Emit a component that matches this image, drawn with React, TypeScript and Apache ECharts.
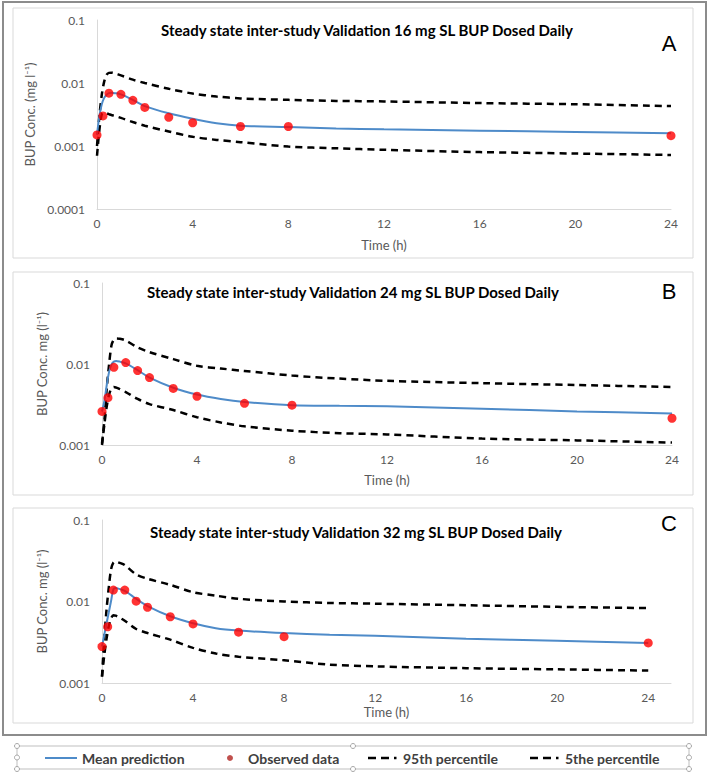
import React, { useEffect, useRef } from "react";
import * as echarts from "echarts";

// ---- data ----
const predTime = [0, 0.1, 0.2, 0.3, 0.4, 0.5, 0.6, 0.75, 1, 1.5, 2, 3, 4, 5, 6, 8, 10, 12, 16, 20, 24];
const obsTime = [0, 0.25, 0.5, 1, 1.5, 2, 3, 4, 6, 8, 24];

const meanA = [0.0015, 0.0030, 0.0046, 0.0058, 0.0065, 0.0069, 0.0070, 0.0069, 0.0066, 0.0054, 0.0043, 0.0033, 0.0027, 0.0023, 0.0021, 0.0020, 0.0019, 0.00184, 0.00175, 0.00167, 0.0016];
const p95A = [0.0010, 0.0030, 0.0065, 0.0105, 0.0135, 0.0145, 0.0146, 0.0142, 0.0132, 0.0113, 0.0100, 0.0081, 0.0068, 0.0061, 0.0057, 0.0054, 0.0052, 0.0051, 0.0048, 0.0046, 0.0043];
const p5A = [0.0007, 0.0018, 0.0032, 0.0034, 0.0033, 0.0032, 0.0031, 0.0030, 0.0028, 0.0024, 0.0021, 0.0017, 0.0014, 0.00125, 0.00115, 0.00098, 0.00092, 0.00087, 0.0008, 0.00076, 0.00072];
const obsA = [0.0015, 0.0030, 0.0069, 0.0066, 0.0053, 0.0041, 0.00285, 0.00234, 0.00204, 0.00204, 0.00146];

const meanB = [0.0026, 0.0035, 0.0055, 0.0080, 0.0099, 0.0107, 0.0109, 0.0107, 0.0102, 0.0084, 0.0068, 0.0051, 0.0042, 0.0037, 0.0034, 0.0031, 0.00305, 0.0030, 0.0028, 0.0026, 0.00245];
const p95B = [0.00105, 0.0020, 0.0050, 0.0100, 0.0170, 0.0200, 0.0207, 0.0205, 0.0195, 0.0160, 0.0140, 0.0115, 0.0095, 0.0088, 0.0082, 0.0072, 0.0066, 0.0062, 0.0058, 0.0055, 0.0052];
const p5B = [0.0010, 0.0018, 0.0030, 0.0042, 0.0050, 0.0052, 0.0051, 0.0049, 0.0045, 0.0037, 0.0032, 0.0027, 0.0022, 0.0019, 0.0017, 0.0015, 0.0014, 0.00135, 0.0012, 0.00114, 0.00107];
const obsB = [0.0026, 0.00384, 0.0091, 0.0104, 0.0083, 0.0068, 0.0050, 0.0040, 0.00327, 0.0031, 0.00214];

const meanC = [0.0028, 0.0039, 0.0054, 0.0074, 0.0102, 0.0141, 0.0146, 0.0143, 0.0135, 0.0108, 0.0088, 0.0066, 0.0054, 0.0047, 0.0044, 0.0041, 0.0039, 0.0038, 0.0035, 0.0033, 0.0031];
const p95C = [0.0012, 0.0035, 0.0080, 0.0150, 0.0250, 0.0300, 0.0310, 0.0300, 0.0280, 0.0215, 0.0190, 0.0160, 0.0130, 0.0118, 0.0108, 0.0100, 0.0096, 0.0094, 0.0090, 0.0086, 0.0083];
const p5C = [0.0012, 0.0022, 0.0035, 0.0050, 0.0062, 0.0068, 0.0067, 0.0064, 0.0058, 0.0046, 0.0041, 0.0034, 0.0027, 0.0023, 0.0021, 0.0019, 0.00168, 0.0016, 0.00152, 0.00147, 0.00142];
const obsC = [0.0028, 0.0049, 0.0138, 0.0138, 0.0101, 0.0085, 0.0065, 0.0053, 0.0042, 0.0037, 0.0031];

const yTickLabels = ["0.0001", "0.001", "0.01", "0.1"]; // decades 1e-4 .. 1e-1
const panelTitles = [
  "Steady state inter-study Validation 16 mg SL BUP Dosed Daily",
  "Steady state inter-study Validation 24 mg SL BUP Dosed Daily",
  "Steady state inter-study Validation 32 mg SL BUP Dosed Daily",
];
const panelLetters = ["A", "B", "C"];
const yAxisNames = ["BUP Conc. (mg l⁻¹)", "BUP Conc. mg (l⁻¹)", "BUP Conc. mg (l⁻¹)"];
const xAxisName = "Time (h)";
const seriesNames = ["Mean prediction", "Observed data", "95th percentile", "5the percentile"];

const FONT = "Lato, 'Open Sans', sans-serif";
const MEAN_COLOR = "#4e8bc9";
const OBS_COLOR = "#ff0000";

export default function App() {
  const ref = useRef<HTMLDivElement>(null);
  useEffect(() => {
    if (!ref.current) return;
    const chart = echarts.init(ref.current, undefined, { renderer: "svg" });

    const panels = [
      { mean: meanA, p95: p95A, p5: p5A, obs: obsA, ymin: 0.0001, xmax: 24 },
      { mean: meanB, p95: p95B, p5: p5B, obs: obsB, ymin: 0.001, xmax: 24 },
      { mean: meanC, p95: p95C, p5: p5C, obs: obsC, ymin: 0.001, xmax: 25 },
    ];
    const grids = [
      { left: 97, top: 20, width: 574, height: 189 },
      { left: 102, top: 283, width: 570, height: 162 },
      { left: 102, top: 520, width: 569, height: 163 },
    ];
    const xNameGaps = [29, 28, 22];
    const yNameGaps = [56, 53, 53];

    const yLabel = (v: number) => {
      const idx = Math.round(Math.log10(v)) + 4;
      return yTickLabels[idx] ?? "";
    };

    const xAxis = panels.map((p, i) => ({
      type: "value",
      gridIndex: i,
      min: 0,
      max: p.xmax,
      interval: 4,
      axisLine: { show: true, onZero: false, lineStyle: { color: "#d9d9d9", width: 1 } },
      axisTick: { show: false },
      splitLine: { show: false },
      axisLabel: {
        color: "#595959",
        fontSize: 12,
        fontFamily: FONT,
        margin: 8,
        formatter: (v: number) => (v > 24 ? "" : String(v)),
      },
      name: xAxisName,
      nameLocation: "middle",
      nameGap: xNameGaps[i],
      nameTextStyle: { color: "#595959", fontSize: 13, fontFamily: FONT },
    }));

    const yAxis = panels.map((p, i) => ({
      type: "log",
      logBase: 10,
      gridIndex: i,
      min: p.ymin,
      max: 0.1,
      axisLine: { show: true, lineStyle: { color: "#d9d9d9", width: 1 } },
      axisTick: { show: false },
      splitLine: { show: false },
      axisLabel: { color: "#595959", fontSize: 12, fontFamily: FONT, margin: 12, formatter: yLabel },
      name: yAxisNames[i],
      nameLocation: "middle",
      nameRotate: 90,
      nameGap: yNameGaps[i],
      nameTextStyle: { color: "#595959", fontSize: 13, fontFamily: FONT },
    }));

    const series: any[] = [];
    panels.forEach((p, i) => {
      const dashed = (name: string, vals: number[]) => ({
        type: "line",
        name,
        xAxisIndex: i,
        yAxisIndex: i,
        data: predTime.map((t, k) => [t, vals[k]]),
        symbol: "none",
        smooth: 0.3,
        lineStyle: { color: "#000", width: 2.5, type: [7, 5] },
        z: 2,
      });
      series.push(dashed(seriesNames[2], p.p95));
      series.push(dashed(seriesNames[3], p.p5));
      series.push({
        type: "line",
        name: seriesNames[0],
        xAxisIndex: i,
        yAxisIndex: i,
        data: predTime.map((t, k) => [t, p.mean[k]]),
        symbol: "none",
        smooth: 0.3,
        lineStyle: { color: MEAN_COLOR, width: 2 },
        z: 3,
      });
      series.push({
        type: "scatter",
        name: seriesNames[1],
        xAxisIndex: i,
        yAxisIndex: i,
        data: obsTime.map((t, k) => [t, p.obs[k]]),
        symbol: "circle",
        symbolSize: 9,
        itemStyle: { color: OBS_COLOR },
        z: 4,
      });
    });

    const titleY = [30, 292, 532];
    const titleX = [367, 353, 356];
    const letterY = [43, 291, 523];
    const panelBoxes = [
      { x: 13, y: 8, w: 680, h: 250 },
      { x: 13, y: 272, w: 680, h: 223 },
      { x: 13, y: 508, w: 680, h: 215 },
    ];

    const legendDash = (x0: number) => [
      { type: "line", shape: { x1: x0, y1: 758, x2: x0 + 8, y2: 758 }, style: { stroke: "#000", lineWidth: 2.5 } },
      { type: "line", shape: { x1: x0 + 13, y1: 758, x2: x0 + 21, y2: 758 }, style: { stroke: "#000", lineWidth: 2.5 } },
      { type: "line", shape: { x1: x0 + 26, y1: 758, x2: x0 + 28.5, y2: 758 }, style: { stroke: "#000", lineWidth: 2.5 } },
    ];

    const legendText = (x: number, text: string) => ({
      type: "text",
      x,
      y: 758,
      style: { text, verticalAlign: "middle", font: `bold 14px ${FONT}`, fill: "#404040" },
    });

    const graphic: any[] = [
      {
        type: "rect",
        shape: { x: 3, y: 2, width: 703, height: 733 },
        style: { fill: "none", stroke: "#8c8c8c", lineWidth: 2 },
        silent: true,
      },
      ...panelBoxes.map((b) => ({
        type: "rect",
        shape: { x: b.x, y: b.y, width: b.w, height: b.h },
        style: { fill: "none", stroke: "#d9d9d9", lineWidth: 1 },
        silent: true,
      })),
      ...panelTitles.map((t, i) => ({
        type: "text",
        x: titleX[i],
        y: titleY[i],
        style: {
          text: t,
          align: "center",
          verticalAlign: "middle",
          font: `bold 15px ${FONT}`,
          fill: "#000",
        },
      })),
      ...panelLetters.map((t, i) => ({
        type: "text",
        x: 669,
        y: letterY[i],
        style: {
          text: t,
          align: "center",
          verticalAlign: "middle",
          font: `22px 'Liberation Sans', Arial, sans-serif`,
          fill: "#000",
        },
      })),
      // legend box
      {
        type: "rect",
        shape: { x: 17, y: 746, width: 672, height: 23 },
        style: { fill: "none", stroke: "#bfbfbf", lineWidth: 1 },
      },
      ...[
        [17, 746], [17, 757.5], [17, 769], [353, 746], [353, 769], [689, 746], [689, 757.5], [689, 769],
      ].map(([cx, cy]) => ({
        type: "circle",
        shape: { cx, cy, r: 2.5 },
        style: { fill: "#fff", stroke: "#a6a6a6", lineWidth: 1 },
      })),
      {
        type: "line",
        shape: { x1: 45, y1: 758, x2: 77, y2: 758 },
        style: { stroke: MEAN_COLOR, lineWidth: 2 },
      },
      legendText(82, seriesNames[0]),
      {
        type: "circle",
        shape: { cx: 230, cy: 758, r: 3 },
        style: { fill: "#c0504d" },
      },
      legendText(248, seriesNames[1]),
      ...legendDash(368),
      legendText(403, seriesNames[2]),
      ...legendDash(530),
      legendText(565, seriesNames[3]),
    ];

    chart.setOption({
      animation: false,
      backgroundColor: "#fff",
      textStyle: { fontFamily: FONT },
      grid: grids,
      xAxis,
      yAxis,
      series,
      graphic,
    });

    return () => chart.dispose();
  }, []);

  return (
    <div
      ref={ref}
      style={{ position: "fixed", left: 0, top: 0, width: 709, height: 776 }}
    />
  );
}
